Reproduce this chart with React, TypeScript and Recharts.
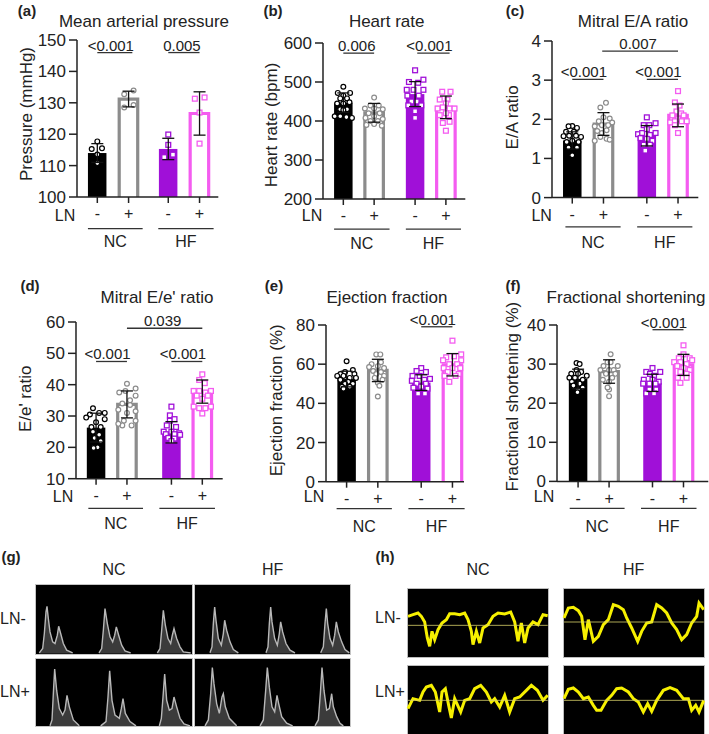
import React from 'react';
import { ComposedChart, Bar, Scatter, ErrorBar, XAxis, YAxis, ReferenceLine, Area, Line } from 'recharts';

const FONT = '"Liberation Sans", Arial, sans-serif';
const INK = '#222';
const groupColors = ['#000000', '#8c8c8c', '#a010d8', '#f45cf0'];
const lnLabels = ['-', '+', '-', '+'];
type P = [number, number];

// ---- bar panels: means, SDs, and individual animals (offset within bar, value)
const aMeans = [114, 131.2, 115.3, 126.6];
const aErrs = [3, 2.5, 3.4, 6.9];
const aNCminus: P[] = [[0, 117.7], [-0.18, 115.3], [0.15, 115.5], [0, 113.5], [0, 110.8]];
const aNCplus: P[] = [[0.16, 133.9], [-0.14, 132.7], [0.16, 129.3], [-0.14, 128.5]];
const aHFminus: P[] = [[0, 119.9], [0, 116.6], [-0.13, 112.7], [0.15, 113.5]];
const aHFplus: P[] = [[-0.15, 131.3], [0.16, 131.7], [0, 126.9], [0, 117]];

const bMeans = [447, 421, 469, 435];
const bErrs = [25, 24, 32, 29];
const bNCminus: P[] = [[0, 488], [-0.18, 472], [0.22, 472], [0, 465], [-0.1, 458], [0.12, 458], [-0.2, 445], [0.2, 448], [0, 445], [-0.1, 430], [0.12, 430], [-0.28, 412], [-0.1, 412], [0.1, 410], [0.28, 408], [0, 428]];
const bNCplus: P[] = [[0, 460], [-0.12, 440], [0.15, 440], [-0.3, 432], [0.28, 430], [0, 432], [-0.18, 420], [0.18, 420], [0, 412], [-0.28, 408], [0.28, 405], [-0.12, 400], [0.12, 400], [0, 392], [-0.25, 390], [0.25, 388]];
const bHFminus: P[] = [[0, 530], [-0.2, 500], [0.1, 498], [0.27, 506], [-0.27, 480], [-0.05, 480], [0.27, 480], [-0.25, 465], [0.12, 465], [-0.12, 450], [0.05, 450], [-0.22, 440], [0.2, 440], [0, 425], [0, 408]];
const bHFplus: P[] = [[-0.12, 475], [0.15, 475], [-0.2, 455], [0.05, 455], [0, 445], [-0.27, 432], [-0.1, 435], [0.12, 432], [0.28, 432], [-0.2, 415], [0.1, 415], [-0.1, 395], [0.12, 398], [0, 375], [0, 420]];

const cMeans = [1.46, 1.88, 1.58, 2.1];
const cErrs = [0.22, 0.29, 0.26, 0.29];
const cNCminus: P[] = [[0, 1.83], [-0.12, 1.82], [0.15, 1.78], [-0.2, 1.68], [0.05, 1.68], [-0.28, 1.57], [-0.1, 1.58], [0.12, 1.58], [0.28, 1.55], [-0.18, 1.42], [0, 1.45], [0.2, 1.42], [-0.12, 1.28], [0.15, 1.28], [0, 1.08]];
const cNCplus: P[] = [[0.08, 2.42], [-0.1, 2.3], [0, 2.05], [0.2, 2.02], [-0.15, 1.95], [0.28, 1.92], [-0.28, 1.82], [-0.05, 1.85], [0.15, 1.85], [-0.2, 1.7], [0.1, 1.72], [-0.28, 1.45], [-0.05, 1.65], [0.1, 1.5], [0.2, 1.48], [-0.1, 1.55]];
const cHFminus: P[] = [[0, 2.05], [-0.1, 1.85], [0.28, 1.9], [0.08, 1.85], [-0.28, 1.62], [-0.15, 1.65], [0.28, 1.65], [0, 1.75], [0.1, 1.6], [-0.2, 1.52], [0.18, 1.45], [0, 1.5], [-0.1, 1.35], [0.1, 1.35], [-0.05, 1.2]];
const cHFplus: P[] = [[0, 2.72], [-0.1, 2.43], [0.05, 2.35], [-0.05, 2.2], [0.1, 2.15], [0, 2.0], [-0.25, 1.92], [-0.1, 1.95], [0.12, 1.95], [0.28, 1.95], [-0.18, 2.1], [0.18, 2.1], [0, 1.65], [-0.1, 1.85]];

const dMeans = [26.3, 33.7, 24.8, 37.8];
const dErrs = [4.6, 4.3, 3.4, 3.7];
const dNCminus: P[] = [[-0.1, 32.5], [0.1, 31], [-0.2, 30.5], [0.28, 31], [-0.32, 29.5], [0.28, 29], [0, 28], [-0.15, 26.5], [0.15, 26.5], [-0.1, 25], [0.1, 24], [-0.05, 23], [0.15, 22], [-0.1, 20], [0.05, 20], [-0.08, 19.8]];
const dNCplus: P[] = [[0, 40.3], [0.28, 38.8], [-0.25, 37.5], [-0.05, 38], [0.28, 36.5], [0.1, 35], [-0.15, 34], [0.1, 33.5], [-0.28, 32], [0.28, 31.5], [0, 31], [-0.1, 28.5], [0.28, 28.5], [-0.15, 27], [0.15, 27], [-0.28, 27.5]];
const dHFminus: P[] = [[0, 33], [-0.05, 30.2], [-0.05, 28.5], [0.1, 29], [-0.15, 27], [0.15, 26.5], [-0.25, 25], [0, 25], [0.25, 24.5], [-0.18, 24.2], [0.1, 24.2], [0.28, 24], [-0.1, 23], [0.1, 22.8], [0, 22]];
const dHFplus: P[] = [[0, 43.3], [-0.1, 41.5], [0.08, 40.5], [-0.28, 38], [-0.1, 38], [0.1, 37.5], [0.28, 38], [-0.18, 36.5], [0.18, 36.5], [0, 35.5], [-0.28, 33], [0.28, 33], [-0.1, 32.5], [0.1, 32.5], [0, 30.8]];

const eMeans = [52.4, 56.8, 50.6, 59.7];
const eErrs = [4, 5.7, 4, 5.7];
const eNCminus: P[] = [[0, 61.5], [-0.05, 56], [0.2, 57], [-0.2, 55], [0.25, 55], [-0.3, 54], [-0.1, 54], [0.1, 53], [0.3, 53], [-0.2, 52], [0.05, 51], [-0.05, 50], [0.2, 50], [-0.15, 48.5], [0.1, 48.5], [-0.1, 47.5]];
const eNCplus: P[] = [[-0.05, 65], [0.08, 65], [0.1, 61], [-0.2, 60], [-0.28, 58.5], [0, 59], [0.2, 58], [-0.15, 56.5], [0.1, 56], [-0.05, 55], [0.2, 54], [-0.1, 53], [0.15, 52], [0, 50.5], [0.05, 49], [0, 43.5]];
const eHFminus: P[] = [[0, 58], [-0.15, 56.5], [0.15, 56], [-0.28, 54], [-0.05, 54], [0.28, 52.5], [-0.3, 51.5], [0.1, 52], [-0.15, 50], [0.15, 50], [0, 48.5], [-0.25, 48], [0.2, 47.5], [-0.1, 45], [0.12, 45]];
const eHFplus: P[] = [[0, 72], [0.28, 65], [-0.2, 63.5], [0.05, 64], [0.28, 62], [-0.3, 62], [-0.1, 60], [0.15, 60], [-0.28, 58], [0, 58], [0.25, 58], [-0.15, 56], [0.2, 55], [-0.25, 54], [0.1, 54], [-0.1, 51]];

const fMeans = [26.2, 28.1, 25.2, 29.8];
const fErrs = [2.5, 3, 2.2, 2.7];
const fNCminus: P[] = [[-0.05, 30.3], [0.05, 30], [-0.05, 28.5], [0.1, 28], [-0.22, 27.5], [0, 27.5], [0.28, 27], [-0.28, 26.5], [-0.1, 26.5], [0.15, 26], [-0.2, 25.5], [0.05, 25], [-0.15, 24.5], [0.15, 24], [0, 23.5], [-0.02, 22.8]];
const fNCplus: P[] = [[0.05, 32.5], [-0.05, 30.5], [0.05, 30.5], [-0.18, 29.5], [0.28, 29.5], [-0.28, 28.5], [0, 28.5], [0.15, 28.5], [-0.1, 27.5], [0.2, 27.5], [-0.2, 26], [0.1, 26.5], [0, 25.5], [0, 23.5], [0, 21.8], [-0.05, 24]];
const fHFminus: P[] = [[0, 29], [-0.2, 28], [0.25, 28], [-0.08, 27.5], [0.05, 27], [-0.28, 26], [0, 26], [0.2, 25.5], [-0.3, 25], [-0.1, 25], [0.1, 25], [-0.1, 23.5], [0.12, 23.5], [-0.2, 22.5], [0.05, 22.5]];
const fHFplus: P[] = [[0, 34.8], [0, 32.5], [-0.15, 31.5], [0.2, 31.5], [-0.3, 30.5], [0.28, 31], [-0.1, 30.5], [0.1, 30], [-0.2, 29.5], [0, 29], [0.2, 28.5], [-0.1, 28], [0.1, 27.5], [-0.18, 26.5], [0.1, 26.5], [-0.1, 25.2]];

// ---- Doppler envelopes (g): [time, velocity]
const gNCminus: P[][] = [
  [[118, 2], [128, 15], [133, 60], [138, 125], [141, 142], [145, 105], [150, 65], [158, 35], [165, 30], [172, 55], [176, 82], [182, 60], [190, 30], [200, 10], [218, 2]],
  [[297, 2], [305, 15], [310, 70], [315, 135], [322, 90], [330, 50], [338, 35], [344, 55], [349, 80], [356, 55], [365, 25], [375, 8], [392, 2]],
  [[472, 2], [480, 15], [485, 70], [490, 130], [496, 85], [504, 45], [512, 30], [517, 55], [522, 75], [530, 45], [540, 20], [550, 5], [572, 2]],
];
const gHFminus: P[][] = [
  [[630, 2], [636, 20], [640, 90], [644, 140], [648, 100], [655, 45], [664, 25], [670, 60], [674, 100], [680, 70], [690, 35], [700, 12], [715, 2]],
  [[798, 2], [804, 20], [808, 90], [812, 140], [816, 95], [824, 45], [832, 25], [838, 60], [842, 95], [848, 65], [858, 30], [870, 10], [885, 2]],
  [[962, 2], [970, 20], [975, 90], [979, 135], [983, 90], [990, 45], [998, 25], [1004, 55], [1009, 95], [1015, 65], [1025, 35], [1035, 12], [1048, 2]],
];
const gNCplus: P[][] = [
  [[150, 2], [156, 20], [160, 100], [164, 175], [170, 110], [178, 55], [188, 35], [195, 50], [201, 95], [208, 60], [220, 20], [238, 2]],
  [[302, 2], [318, 15], [324, 90], [329, 170], [336, 80], [345, 35], [358, 25], [364, 55], [369, 85], [376, 40], [390, 15], [408, 2]],
  [[478, 2], [484, 25], [489, 90], [494, 160], [500, 80], [508, 50], [516, 55], [522, 90], [530, 60], [540, 25], [552, 8], [570, 2]],
];
const gHFplus: P[][] = [
  [[615, 2], [625, 20], [632, 100], [637, 180], [642, 130], [650, 70], [658, 40], [666, 90], [670, 100], [676, 60], [688, 25], [710, 2]],
  [[780, 2], [790, 20], [797, 110], [802, 180], [808, 120], [816, 60], [824, 45], [831, 95], [836, 70], [845, 30], [860, 10], [878, 2]],
  [[945, 2], [955, 20], [961, 100], [966, 180], [972, 110], [980, 50], [988, 55], [995, 100], [1000, 60], [1010, 30], [1020, 10], [1030, 2]],
];

// ---- tissue Doppler traces (h): [time, velocity relative to the baseline]
const hNCminus: P[] = [[160, 27], [175, 32], [190, 37], [200, 27], [210, 10], [218, -38], [225, -63], [232, -18], [240, -43], [250, -13], [262, 7], [275, 17], [285, 35], [300, 35], [315, 32], [330, 37], [340, 17], [350, -18], [355, -58], [365, -18], [375, -53], [385, -8], [400, 2], [415, 27], [430, 37], [450, 34], [468, 40], [480, 10], [490, -48], [500, 7], [510, -53], [520, -8], [535, 10], [550, 2], [565, 32], [579, 29]];
const hHFminus: P[] = [[627, 12], [640, 42], [655, 44], [670, 34], [680, 17], [690, -53], [700, 7], [715, -58], [730, -43], [745, -8], [760, 7], [775, 52], [790, 47], [805, 37], [815, 12], [830, -18], [848, -58], [860, -28], [875, -3], [890, 0], [905, 52], [920, 42], [935, 27], [950, -3], [965, -23], [980, -53], [995, -38], [1010, -3], [1025, 17], [1032, 57], [1046, 37]];
const hNCplus: P[] = [[160, -25], [175, 5], [195, 0], [205, 25], [215, 40], [230, 45], [242, 25], [255, -35], [262, 25], [272, 35], [282, -15], [290, -53], [300, 5], [318, -35], [330, 0], [345, 5], [360, 35], [378, 45], [395, 25], [410, -5], [420, 5], [435, -20], [450, 15], [465, -35], [480, 5], [495, 10], [515, 30], [530, 45], [548, 30], [565, 0], [579, 15]];
const hHFplus: P[] = [[627, 5], [640, 33], [655, 37], [670, 25], [685, 5], [700, 10], [715, -15], [725, -30], [738, -30], [755, 0], [770, 15], [785, 35], [800, 37], [820, 25], [835, 5], [850, -5], [865, -35], [878, -10], [890, -33], [905, 0], [925, 30], [945, 38], [965, 30], [985, 5], [1000, 5], [1010, -30], [1022, -15], [1032, -35], [1046, 0]];

const T = ({ x, y, size = 16, bold = false, anchor = 'center', children }: any) => (
  <div style={{ position: 'absolute', left: x, top: y, transform: `translate(${anchor === 'left' ? '0' : '-50%'},-50%)`, fontFamily: FONT, fontSize: size, fontWeight: bold ? 700 : 400, color: INK, whiteSpace: 'nowrap', lineHeight: 1 }}>{children}</div>
);

const Marker = (color: string, square: boolean) => (p: any) => {
  if (p.cx == null || p.cy == null) return <g />;
  return square
    ? <rect x={p.cx - 2.4} y={p.cy - 2.4} width={4.8} height={4.8} fill="#fff" stroke={color} strokeWidth={1.3} />
    : <circle cx={p.cx} cy={p.cy} r={2.4} fill="#fff" stroke={color} strokeWidth={1.2} />;
};
const NoMark = () => <g />;

const BAR_W = 18.5;
const BarShape = (p: any) => {
  const c = p.x + p.width / 2;
  const i = p.index;
  const l = c - BAR_W / 2, r = c + BAR_W / 2, b = p.y + p.height;
  if (i % 2 === 0) return <rect x={l} y={p.y} width={BAR_W} height={p.height} fill={groupColors[i]} />;
  return <path d={`M${l},${b}V${p.y}H${r}V${b}`} fill="#fff" stroke={groupColors[i]} strokeWidth={3.2} />;
};

const Y_W = 70, M_TOP = 12, M_RIGHT = 2, X_H = 26;

function Panel({ box, groupX, domain, ticks, xDomain, means, errs, points, brackets, underY, yLabel, labelX, labelDy, groupLines }: any) {
  const [left, right, top, bottom] = box;
  const plotW = right - left, plotH = bottom - top;
  const rows = means.map((m: number, i: number) => ({ pos: groupX[i], mean: m, err: errs[i] }));
  return (
    <div style={{ position: 'absolute', left: left - Y_W, top: top - M_TOP }}>
      <ComposedChart width={Y_W + plotW + M_RIGHT} height={M_TOP + plotH + 2 * X_H + 8} data={rows} margin={{ top: M_TOP, right: M_RIGHT, left: 0, bottom: 8 }}>
        <XAxis dataKey="pos" type="number" domain={xDomain} ticks={groupX} interval={0} height={X_H} tickSize={6} tickMargin={5}
          tickFormatter={(_v: any, i: number) => lnLabels[i]} tick={{ fill: INK, fontSize: 16, fontFamily: FONT }}
          axisLine={{ stroke: INK, strokeWidth: 1.5 }} tickLine={{ stroke: INK, strokeWidth: 1.5 }} />
        <XAxis xAxisId="group" dataKey="pos" type="number" domain={xDomain} ticks={groupLines.map((g: number[]) => (g[0] + g[1]) / 2)} interval={0} height={X_H}
          tickFormatter={(_v: any, i: number) => ['NC', 'HF'][i]} tick={{ fill: INK, fontSize: 16, fontFamily: FONT }} axisLine={false} tickLine={false} tickMargin={7} />
        <YAxis type="number" domain={domain} ticks={ticks} width={Y_W} interval={0} tickSize={8} tickMargin={3} tick={{ fill: INK, fontSize: 17, fontFamily: FONT }}
          axisLine={{ stroke: INK, strokeWidth: 1.5 }} tickLine={{ stroke: INK, strokeWidth: 1.5 }}
          label={{ value: yLabel, angle: -90, position: 'insideLeft', offset: labelX, dy: labelDy, fill: INK, fontSize: 17, fontFamily: FONT, style: { textAnchor: 'middle' } }} />
        <Bar dataKey="mean" isAnimationActive={false} shape={BarShape} />
        {points.map((pts: P[], i: number) => (
          <Scatter key={i} data={pts.map(([o, v]) => ({ pos: groupX[i] + o, v }))} dataKey="v" isAnimationActive={false} shape={Marker(groupColors[i], i >= 2)} />
        ))}
        <Scatter data={rows} dataKey="mean" isAnimationActive={false} shape={NoMark}>
          <ErrorBar dataKey="err" direction="y" width={6} stroke="#111" strokeWidth={1.3} isAnimationActive={false} zIndex={900} />
        </Scatter>
        {brackets.map((b: any, i: number) => (
          <ReferenceLine key={i} ifOverflow="visible" segment={[{ x: b.from, y: b.y }, { x: b.to, y: b.y }]} stroke="#333" strokeWidth={1.3}
            label={{ value: b.text, position: 'top', offset: 2, dx: b.text[0] === '<' ? -4 : -2, fill: INK, fontSize: 15, fontFamily: FONT }} />
        ))}
        {groupLines.map((g: number[], i: number) => (
          <ReferenceLine key={`g${i}`} ifOverflow="visible" segment={[{ x: g[0], y: underY }, { x: g[1], y: underY }]} stroke="#333" strokeWidth={1.2} />
        ))}
      </ComposedChart>
    </div>
  );
}

function Doppler({ x, y, w, h, cycles, xDomain }: any) {
  return (
    <div style={{ position: 'absolute', left: x, top: y, width: w, height: h, background: '#000', outline: '1px solid #c4c4c4' }}>
      <ComposedChart width={w} height={h} margin={{ top: 0, right: 0, left: 0, bottom: 0 }}>
        <XAxis dataKey="t" type="number" domain={xDomain} hide />
        <YAxis type="number" domain={[0, 206]} hide />
        {cycles.map((c: P[], i: number) => (
          <Area key={i} data={c.map(([t, v]) => ({ t, v }))} dataKey="v" type="linear" stroke="#b8b8b8" strokeWidth={1.4} fill="#9a9a9a" fillOpacity={0.38} dot={false} activeDot={false} isAnimationActive={false} />
        ))}
      </ComposedChart>
    </div>
  );
}

function Tissue({ x, y, w, h, trace, xDomain, yDomain }: any) {
  return (
    <div style={{ position: 'absolute', left: x, top: y, width: w, height: h, background: '#000', outline: '1px solid #bdbdbd' }}>
      <ComposedChart width={w} height={h} margin={{ top: 0, right: 0, left: 0, bottom: 0 }} data={trace.map(([t, v]: P) => ({ t, v }))}>
        <XAxis dataKey="t" type="number" domain={xDomain} hide />
        <YAxis type="number" domain={yDomain} hide />
        <Line dataKey="v" type="linear" stroke="#f6f000" strokeWidth={3} dot={false} activeDot={false} isAnimationActive={false} />
        <ReferenceLine y={0} stroke="#d8d26a" strokeWidth={0.8} />
      </ComposedChart>
    </div>
  );
}

const panels = [
  { box: [76.7, 218, 40, 197], groupX: [0, 1, 2.27, 3.27], xDomain: [-0.65, 3.87], domain: [100, 150], ticks: [100, 110, 120, 130, 140, 150], means: aMeans, errs: aErrs, points: [aNCminus, aNCplus, aHFminus, aHFplus], underY: 89.9, yLabel: 'Pressure (mmHg)', labelX: 19, labelDy: -4.5, groupLines: [[-0.3, 1.45], [1.95, 3.72]], brackets: [{ from: 0, to: 1.12, y: 146, text: '<0.001' }, { from: 2.27, to: 3.27, y: 146, text: '0.005' }] },
  { box: [322.7, 465, 43, 199], groupX: [0, 1, 2.33, 3.33], xDomain: [-0.66, 3.96], domain: [200, 600], ticks: [200, 300, 400, 500, 600], means: bMeans, errs: bErrs, points: [bNCminus, bNCplus, bHFminus, bHFplus], underY: 123, yLabel: 'Heart rate (bpm)', labelX: 18, labelDy: 4, groupLines: [[-0.3, 1.5], [2.03, 3.82]], brackets: [{ from: 0, to: 1, y: 574, text: '0.006' }, { from: 2.4, to: 3.45, y: 574, text: '<0.001' }] },
  { box: [551.7, 698, 40.7, 197.3], groupX: [0, 1, 2.39, 3.39], xDomain: [-0.65, 4.04], domain: [0, 4], ticks: [0, 1, 2, 3, 4], means: cMeans, errs: cErrs, points: [cNCminus, cNCplus, cHFminus, cHFplus], underY: -0.75, yLabel: 'E/A ratio', labelX: 30, labelDy: -2, groupLines: [[-0.22, 1.55], [2.08, 3.85]], brackets: [{ from: 0.96, to: 3.39, y: 3.74, text: '0.007' }, { from: 0, to: 1, y: 3.02, text: '<0.001' }, { from: 2.39, to: 3.39, y: 3.02, text: '<0.001' }] },
  { box: [76, 222.7, 322.3, 479], groupX: [0, 1, 2.44, 3.44], xDomain: [-0.65, 4.1], domain: [10, 60], ticks: [10, 20, 30, 40, 50, 60], means: dMeans, errs: dErrs, points: [dNCminus, dNCplus, dHFminus, dHFplus], underY: 0.5, yLabel: "E/e' ratio", labelX: 19, labelDy: -1.5, groupLines: [[-0.25, 1.52], [2.05, 3.85]], brackets: [{ from: 1, to: 3.44, y: 58, text: '0.039' }, { from: 0, to: 1, y: 47.4, text: '<0.001' }, { from: 2.44, to: 3.44, y: 47.4, text: '<0.001' }] },
  { box: [326, 464, 325, 481.7], groupX: [0, 1, 2.39, 3.39], xDomain: [-0.66, 3.76], domain: [0, 80], ticks: [0, 20, 40, 60, 80], means: eMeans, errs: eErrs, points: [eNCminus, eNCplus, eHFminus, eHFplus], underY: -13.8, yLabel: 'Ejection fraction (%)', labelX: 20, labelDy: -3, groupLines: [[-0.32, 1.45], [1.98, 3.78]], brackets: [{ from: 2.39, to: 3.39, y: 79.1, text: '<0.001' }] },
  { box: [556.7, 708, 325.3, 481.7], groupX: [0, 1, 2.4, 3.4], xDomain: [-0.68, 4.2], domain: [0, 40], ticks: [0, 10, 20, 30, 40], means: fMeans, errs: fErrs, points: [fNCminus, fNCplus, fHFminus, fHFplus], underY: -6.9, yLabel: 'Fractional shortening (%)', labelX: 25, labelDy: -6.5, groupLines: [[-0.27, 1.5], [2.03, 3.82]], brackets: [{ from: 2.4, to: 3.4, y: 38.8, text: '<0.001' }] },
];

const heads = [
  ['(a)', 27, 10, 'Mean arterial pressure', 144, 21, 65, 216],
  ['(b)', 273, 10, 'Heart rate', 386.7, 21, 312, 216],
  ['(c)', 515, 10, 'Mitral E/A ratio', 633, 21, 541.7, 216],
  ['(d)', 30, 285, "Mitral E/e' ratio", 157, 297, 63, 497],
  ['(e)', 274, 285, 'Ejection fraction', 387, 297, 314, 497],
  ['(f)', 513, 285, 'Fractional shortening', 626, 297, 544, 497],
];

export default function App() {
  return (
    <div style={{ position: 'absolute', left: 0, top: 0, width: 709, height: 734, background: '#fff', overflow: 'hidden' }}>
      <style>{'svg{overflow:visible}'}</style>
      {panels.map((p, i) => <Panel key={i} {...p} />)}
      {heads.map((h: any, i) => (
        <React.Fragment key={i}>
          <T x={h[1]} y={h[2]} size={15} bold>{h[0]}</T>
          <T x={h[4]} y={h[5]} size={17}>{h[3]}</T>
          <T x={h[6]} y={h[7]}>LN</T>
        </React.Fragment>
      ))}

      <T x={11} y={556} size={15} bold>(g)</T>
      <T x={114} y={570}>NC</T>
      <T x={272.7} y={570}>HF</T>
      <T x={0} y={619} anchor="left">LN-</T>
      <T x={0} y={692} anchor="left">LN+</T>
      <Doppler x={36} y={585} w={156} h={68.5} cycles={gNCminus} xDomain={[108, 576]} />
      <Doppler x={195} y={585} w={155} h={68.5} cycles={gHFminus} xDomain={[585, 1050]} />
      <Doppler x={36} y={658.5} w={156} h={67.5} cycles={gNCplus} xDomain={[108, 576]} />
      <Doppler x={195} y={658.5} w={155} h={67.5} cycles={gHFplus} xDomain={[585, 1050]} />

      <T x={385} y={556} size={15} bold>(h)</T>
      <T x={478} y={570}>NC</T>
      <T x={633.7} y={570}>HF</T>
      <T x={375} y={618} anchor="left">LN-</T>
      <T x={375} y={692} anchor="left">LN+</T>
      <Tissue x={408.3} y={589.3} w={139.7} h={68} trace={hNCminus} xDomain={[160, 579]} yDomain={[-95, 109]} />
      <Tissue x={564} y={589.3} w={139.7} h={68} trace={hHFminus} xDomain={[627, 1046]} yDomain={[-105, 99]} />
      <Tissue x={408.3} y={665.7} w={139.7} h={69} trace={hNCplus} xDomain={[160, 579]} yDomain={[-104, 103]} />
      <Tissue x={564} y={665.7} w={139.7} h={69} trace={hHFplus} xDomain={[627, 1046]} yDomain={[-104, 103]} />
    </div>
  );
}
